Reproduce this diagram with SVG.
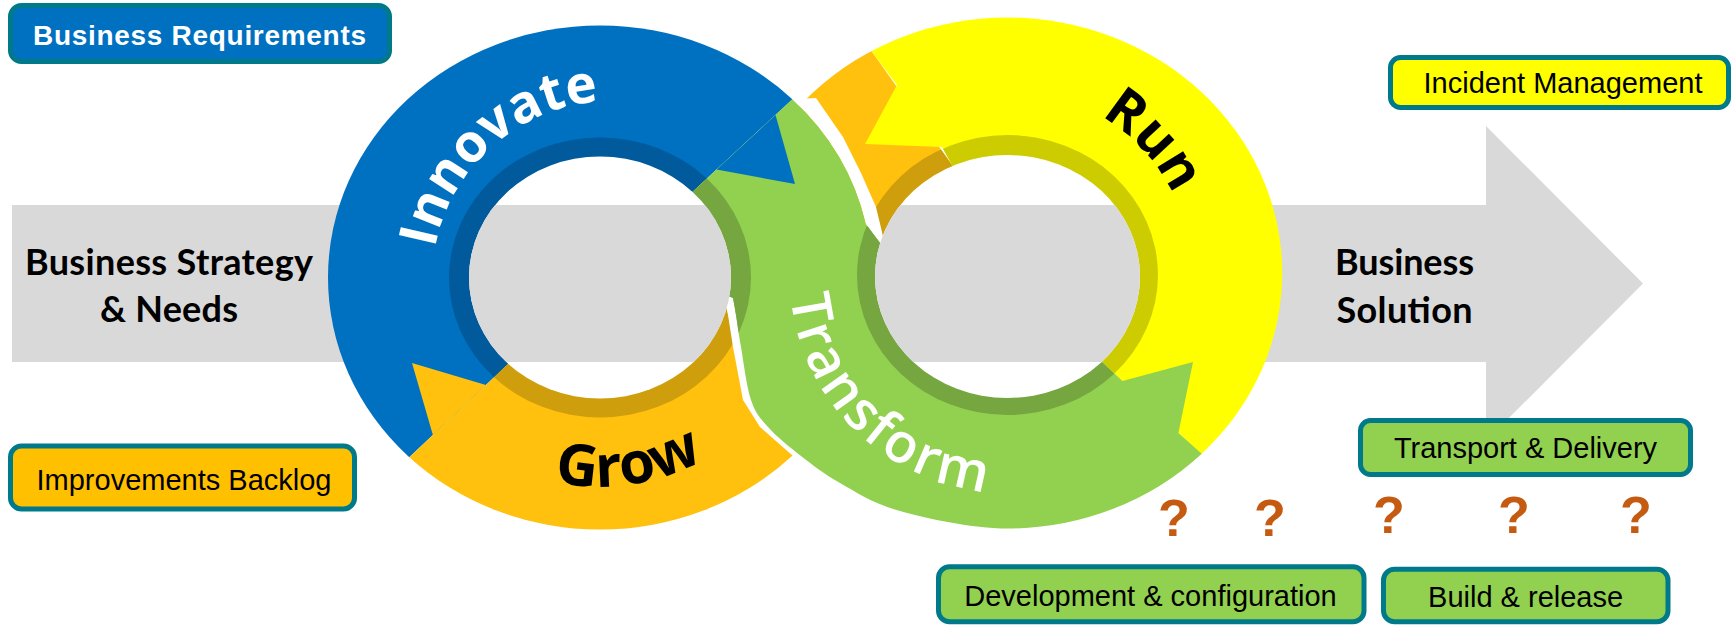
<svg xmlns="http://www.w3.org/2000/svg" width="1733" height="625" viewBox="0 0 1733 625">
<defs>
<style>
.gray{fill:#D9D9D9}
.box{stroke:#007A8A;stroke-width:5}
.bt{font-family:"Liberation Sans",Arial,sans-serif;font-size:29px;fill:#000;text-anchor:middle}
.big{font-family:Lato,"Open Sans",sans-serif;font-weight:700;font-size:36px;fill:#000;text-anchor:middle}
.ring{font-family:"Open Sans","Noto Sans",sans-serif;font-weight:700}
.q{font-family:"Liberation Sans",Arial,sans-serif;font-weight:700;font-size:52px;fill:#C55A11;text-anchor:middle}
.blue{fill:#0070C0}.blueD{fill:#005A9C}
.org{fill:#FFC10E}.orgD{fill:#CF9E0C}
.yel{fill:#FFFF00}.yelD{fill:#CCCC00}
.grn{fill:#92D050}.grnD{fill:#75A640}
</style>
<polygon id="arrowShape" points="12,205 1486,205 1486,126 1643,283.5 1486,441 1486,362 12,362"/>
<path id="greenShape" d="M676,207 L792.3,99.3 A272 252 0 0 1 865.8,224 L880,243 L905,275 L1040,310 L1102.1,362 L1122.5,381 L1193,362 L1178.4,433 L1201.7,453.7 A274.7 255.5 0 0 1 1007.5,528.5 C971.5,528.5 927.9,518.6 900,511 C872.1,503.4 856.5,492.2 840,483 C823.5,473.8 813,465.3 801,456 C789,446.7 776.3,436.3 768,427 C759.7,417.7 755.5,413.3 751,400 C746.5,386.7 743.5,361.2 741,347 C738.5,332.8 737.3,323.2 736,315 C734.7,306.8 734,303.7 733,298 L700,285 Z"/>
<clipPath id="cLO"><ellipse cx="600" cy="277.5" rx="272" ry="252"/></clipPath>
<clipPath id="cLB"><ellipse cx="600" cy="277.5" rx="151" ry="140"/></clipPath>
<clipPath id="cLH"><ellipse cx="600" cy="277.5" rx="131" ry="121"/></clipPath>
<clipPath id="cRO"><ellipse cx="1007.5" cy="273" rx="274.7" ry="255.5"/></clipPath>
<clipPath id="cRB"><ellipse cx="1007.5" cy="275" rx="150.5" ry="140"/></clipPath>
<clipPath id="cRH"><ellipse cx="1007.5" cy="276.5" rx="132.5" ry="121.5"/></clipPath>
<clipPath id="cG"><use href="#greenShape"/></clipPath>
<path id="tpInnovate" d="M432,281 A180 180 0 0 1 792,281"/>
<path id="tpGrow" d="M388.4,309.1 A214 214 0 0 0 811.6,245.9"/>
<path id="tpRun" d="M882.9,139.1 A184 184 0 0 1 1132.1,409.9"/>
<path id="tpTransform" d="M852.8,120.9 A218 218 0 0 0 1162.2,428.1"/>
</defs>
<rect width="1733" height="625" fill="#fff"/>

<g id="flow-arrow"><use href="#arrowShape" class="gray"/></g>

<g id="node-innovate">
 <g clip-path="url(#cLO)"><polygon class="blue" points="600,277.5 282.1,577.1 146.4,277.5 279.3,-19.5 600,-142.5 920.7,-19.5"/></g>
 <g clip-path="url(#cLB)"><polygon class="blueD" points="600,277.5 282.1,577.1 146.4,277.5 279.3,-19.5 600,-142.5 920.7,-19.5"/></g>
</g>

<g id="node-grow">
 <g clip-path="url(#cLO)"><polygon class="org" points="600,277.5 1051.9,314.1 920.7,574.5 600,697.5 282.1,577.1"/></g>
 <g clip-path="url(#cLB)"><polygon class="orgD" points="600,277.5 1051.9,314.1 920.7,574.5 600,697.5 282.1,577.1"/></g>
 <polygon class="org" points="432.9,435 412,363 485.9,385"/>
 <g clip-path="url(#cRO)"><polygon class="org" points="1007.5,274 557.7,237.4 688.2,-23 793,-60 875,56 952,165"/></g>
 <g clip-path="url(#cRB)"><polygon class="orgD" points="1007.5,274 557.7,237.4 688.2,-23 793,-60 875,56 952,165"/></g>
</g>

<g id="node-run">
 <g clip-path="url(#cRO)"><polygon class="yel" points="793,-60 875,56 897,85 865,144 942,147 952,165 1007.5,274 1326.8,571 1459,274 1326.8,-23 1007.5,-146"/></g>
 <g clip-path="url(#cRB)"><polygon class="yelD" points="793,-60 875,56 897,85 865,144 942,147 952,165 1007.5,274 1326.8,571 1459,274 1326.8,-23 1007.5,-146"/></g>
</g>

<g id="node-transform">
 <path fill="#fff" d="M792.3,99.3 A272 252 0 0 1 865.8,224 L880,243 L886,252 L882,232 L876,207 L861,173 L843,137 L816,98 Z"/>
 <path fill="#fff" d="M722,288 L728,315 L733,347 L743,400 L760,427 L793,456 L815,471 L850,490 L880,470 L790,400 L760,330 L745,290 Z"/>
 <use href="#greenShape" class="grn"/>
 <g clip-path="url(#cG)">
  <g clip-path="url(#cLB)"><polygon class="grnD" points="600,277.5 920.7,-19.5 1053.6,277.5 992.8,487.5"/></g>
  <g clip-path="url(#cRB)"><polygon class="grnD" points="1007.5,274 1326.8,571 1007.5,694 688.2,571 556,274 583.2,130.4"/></g>
 </g>
</g>

<g id="ring-holes">
 <g clip-path="url(#cLH)"><rect x="460" y="150" width="280" height="260" fill="#fff"/><use href="#arrowShape" class="gray"/></g>
 <g clip-path="url(#cRH)"><rect x="870" y="150" width="280" height="260" fill="#fff"/><use href="#arrowShape" class="gray"/></g>
</g>

<g id="node-innovate-head"><polygon class="blue" points="716.6,169.5 795,184 775.5,115"/></g>

<g id="ring-labels">
 <text class="ring" font-size="53" fill="#fff"><textPath href="#tpInnovate" startOffset="33">Innovate</textPath></text>
 <text class="ring" font-size="58" fill="#000" text-anchor="middle"><textPath href="#tpGrow" startOffset="50%">Grow</textPath></text>
 <text class="ring" font-size="55" fill="#000" text-anchor="middle"><textPath href="#tpRun" startOffset="50%">Run</textPath></text>
 <text font-family="Open Sans, Noto Sans, sans-serif" font-weight="600" font-size="55" fill="#fff" text-anchor="middle" letter-spacing="2.5"><textPath href="#tpTransform" startOffset="50%">Transform</textPath></text>
</g>

<g id="node-strategy">
 <text class="big" x="169" y="275" textLength="288">Business Strategy</text>
 <text class="big" x="169" y="322" textLength="138">&amp; Needs</text>
</g>
<g id="node-solution">
 <text class="big" x="1404.5" y="275" textLength="139">Business</text>
 <text class="big" x="1404.5" y="323" textLength="136">Solution</text>
</g>

<g id="node-business-requirements">
 <rect class="box" x="10.5" y="5.5" width="379" height="56" rx="11" fill="#0070C0"/>
 <text x="199.5" y="45" font-family="Liberation Sans, Arial, sans-serif" font-weight="700" font-size="28" fill="#fff" text-anchor="middle" textLength="333">Business Requirements</text>
</g>
<g id="node-incident-management">
 <rect class="box" x="1390.5" y="57.5" width="338" height="50" rx="10" fill="#FFFF00"/>
 <text class="bt" x="1563" y="93">Incident Management</text>
</g>
<g id="node-transport-delivery">
 <rect class="box" x="1360.5" y="420.5" width="330" height="54" rx="10" fill="#92D050"/>
 <text class="bt" x="1525.5" y="458">Transport &amp; Delivery</text>
</g>
<g id="node-improvements-backlog">
 <rect class="box" x="10.5" y="446" width="344" height="63" rx="11" fill="#FFC000"/>
 <text class="bt" x="184" y="490">Improvements Backlog</text>
</g>
<g id="node-development-configuration">
 <rect class="box" x="938.5" y="566.8" width="425.5" height="55" rx="11" fill="#92D050"/>
 <text class="bt" x="1150.5" y="606">Development &amp; configuration</text>
</g>
<g id="node-build-release">
 <rect class="box" x="1383.5" y="569.2" width="284.5" height="52.5" rx="11" fill="#92D050"/>
 <text class="bt" x="1525.6" y="607.3">Build &amp; release</text>
</g>

<g id="question-marks">
 <text class="q" x="1174" y="535.5">?</text>
 <text class="q" x="1270" y="535.5">?</text>
 <text class="q" x="1389" y="532.5">?</text>
 <text class="q" x="1514" y="533">?</text>
 <text class="q" x="1636" y="533">?</text>
</g>
<g id="connectors"/>
</svg>
